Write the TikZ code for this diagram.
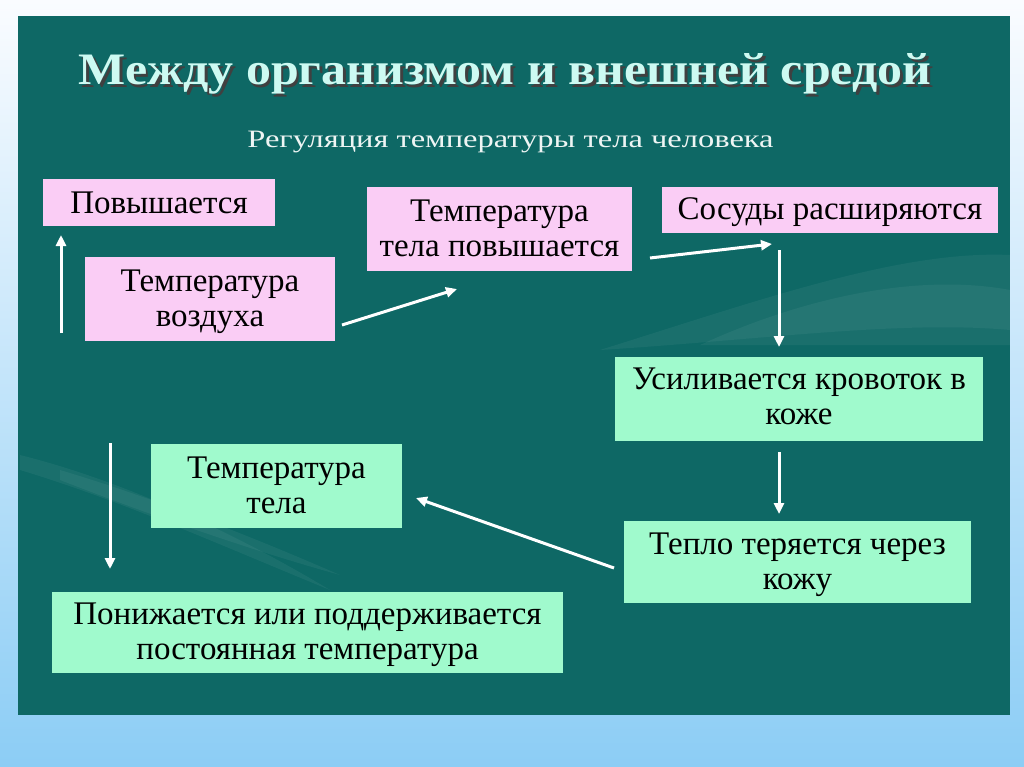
\documentclass[tikz,border=0pt]{standalone}
\usepackage{fontspec}
\setmainfont{Liberation Serif}
\usetikzlibrary{arrows.meta}
\definecolor{teal0}{RGB}{14,104,101}
\definecolor{pinkb}{RGB}{250,205,245}
\definecolor{greenb}{RGB}{160,250,205}
\definecolor{titlec}{RGB}{205,250,242}
\definecolor{skyA}{RGB}{250,252,255}
\definecolor{skyB}{RGB}{140,205,245}
% vertical placement helpers: first-line height and last-line depth
\newcommand\fl[1]{\rule{0pt}{#1}}
\newcommand\ld[1]{\rule[-#1]{0pt}{#1}}
\newcommand\shadowtext[1]{\rlap{\hspace{2.5pt}\raisebox{-2.5pt}{\color{black!75}#1}}#1}
\tikzset{
  box/.style={draw=none,inner sep=0pt,align=center,font=\fontsize{33}{35}\selectfont,text=black},
  pinkbox/.style={box,fill=pinkb},
  greenbox/.style={box,fill=greenb},
  arr/.style={draw=white,line width=3pt,-{Triangle[length=11pt,width=10pt]}},
  swoosh/.style={fill=white,fill opacity=0.05,draw=none},
}
\begin{document}
\begin{tikzpicture}[x=1pt,y=-1pt]
\useasboundingbox (0,0) rectangle (1024,767);
\shade[top color=skyA,bottom color=skyB] (0,0) rectangle (1024,767);
\fill[teal0] (18,16) rectangle (1010,715);
% faint background swooshes
\fill[swoosh] (600,350) .. controls (760,300) and (900,250) .. (1010,255) -- (1010,330) .. controls (900,320) and (760,340) .. (600,350) -- cycle;
\fill[swoosh] (700,345) .. controls (820,290) and (930,275) .. (1010,290) -- (1010,345) -- cycle;
\fill[swoosh] (20,455) .. controls (120,480) and (230,530) .. (330,590) .. controls (220,545) and (120,500) .. (20,470) -- cycle;
\fill[swoosh] (60,470) .. controls (160,500) and (260,540) .. (340,575) .. controls (250,550) and (150,515) .. (60,480) -- cycle;
% title
\node[anchor=base,text=titlec,xscale=1.11,font=\fontsize{45}{50}\selectfont\bfseries] (title) at (505,85) {\shadowtext{Между организмом и внешней средой}};
\node[anchor=base,text=white!93!teal0,xscale=1.3,font=\fontsize{25}{28}\selectfont] (sub) at (510.5,148) {Регуляция температуры тела человека};
% boxes
\node[pinkbox,minimum width=232pt,minimum height=47pt] (pov) at (159,202.5) {\fl{31pt}Повышается\ld{9pt}};
\node[pinkbox,minimum width=250pt,minimum height=84pt] (tv) at (210,299) {\fl{27pt}Температура\\воздуха\ld{8pt}};
\node[pinkbox,minimum width=265pt,minimum height=84pt] (ttp) at (499.5,229) {\fl{27pt}Температура\\тела повышается\ld{8pt}};
\node[pinkbox,minimum width=336pt,minimum height=46pt] (sos) at (830,210) {\fl{29pt}Сосуды расширяются\ld{9pt}};
\node[greenbox,minimum width=368pt,minimum height=84pt] (krov) at (799,399) {\fl{27pt}Усиливается кровоток в\\коже\ld{11pt}};
\node[greenbox,minimum width=347pt,minimum height=82pt] (tep) at (797.5,562) {\fl{27pt}Тепло теряется через\\кожу\ld{8pt}};
\node[greenbox,minimum width=251pt,minimum height=84pt] (tt) at (276.5,486) {\fl{27pt}Температура\\тела\ld{8pt}};
\node[greenbox,minimum width=511pt,minimum height=81pt] (pon) at (307.5,632.5) {\fl{27pt}Понижается или поддерживается\\постоянная температура\ld{9pt}};
% arrow ends
\coordinate (a1s) at (61,333); \coordinate (a1e) at (61,235);
\coordinate (a2s) at (342,325); \coordinate (a2e) at (457,289);
\coordinate (a3s) at (650,258); \coordinate (a3e) at (772,244);
\coordinate (a4s) at (779,250); \coordinate (a4e) at (779,347);
\coordinate (a5s) at (779,452); \coordinate (a5e) at (779,514);
\coordinate (a6s) at (614,568); \coordinate (a6e) at (416,498);
\coordinate (a7s) at (110,443); \coordinate (a7e) at (110,569);
\draw[arr] (a1s) -- (a1e);
\draw[arr] (a2s) -- (a2e);
\draw[arr] (a3s) -- (a3e);
\draw[arr] (a4s) -- (a4e);
\draw[arr] (a5s) -- (a5e);
\draw[arr] (a6s) -- (a6e);
\draw[arr] (a7s) -- (a7e);
\end{tikzpicture}
\end{document}
